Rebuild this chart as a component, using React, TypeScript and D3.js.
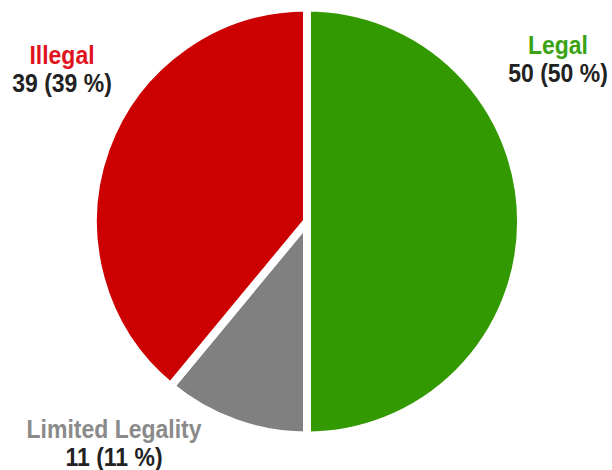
import React from "react";
import * as d3 from "d3";

const categories = ["Legal", "Limited Legality", "Illegal"];
const values = [50, 11, 39];
const percents = [50, 11, 39];
const colors = ["#339900", "#808080", "#cc0000"];
const labelColors = ["#3aa312", "#8a8a8a", "#e0141e"];

const W = 612;
const H = 470;
const cx = 307;
const cy = 221.5;
const R = 214;

// label anchor positions (center x, baseline of first line)
const labelPos: Record<string, [number, number]> = {
  Legal: [558, 53.5],
  "Limited Legality": [114, 437.5],
  Illegal: [62, 63.5],
};

export default function App() {
  const pie = d3
    .pie<number>()
    .sort(null)
    .value((d) => d);
  const arcs = pie(values);
  const arc = d3.arc<d3.PieArcDatum<number>>().innerRadius(0).outerRadius(R);

  return (
    <div style={{ position: "absolute", left: 0, top: 0 }}>
      <svg width={W} height={H} style={{ display: "block" }}>
        <rect width={W} height={H} fill="#ffffff" />
        <g transform={`translate(${cx},${cy})`}>
          {arcs.map((a, i) => (
            <path
              key={categories[i]}
              d={arc(a) || ""}
              fill={colors[i]}
              stroke="#ffffff"
              strokeWidth={8}
              strokeLinejoin="miter"
            />
          ))}
        </g>
        {categories.map((c, i) => {
          const [x, y] = labelPos[c];
          return (
            <g
              key={c}
              fontFamily="Liberation Sans, Arial, sans-serif"
              fontWeight="bold"
              fontSize={23}
              textAnchor="middle"
            >
              <text transform={`translate(${x},${y}) scale(1,1.1)`} fill={labelColors[i]}>
                {c}
              </text>
              <text transform={`translate(${x},${y + 28.5}) scale(1,1.1)`} fill="#222222">
                {`${values[i]} (${percents[i]} %)`}
              </text>
            </g>
          );
        })}
      </svg>
    </div>
  );
}
